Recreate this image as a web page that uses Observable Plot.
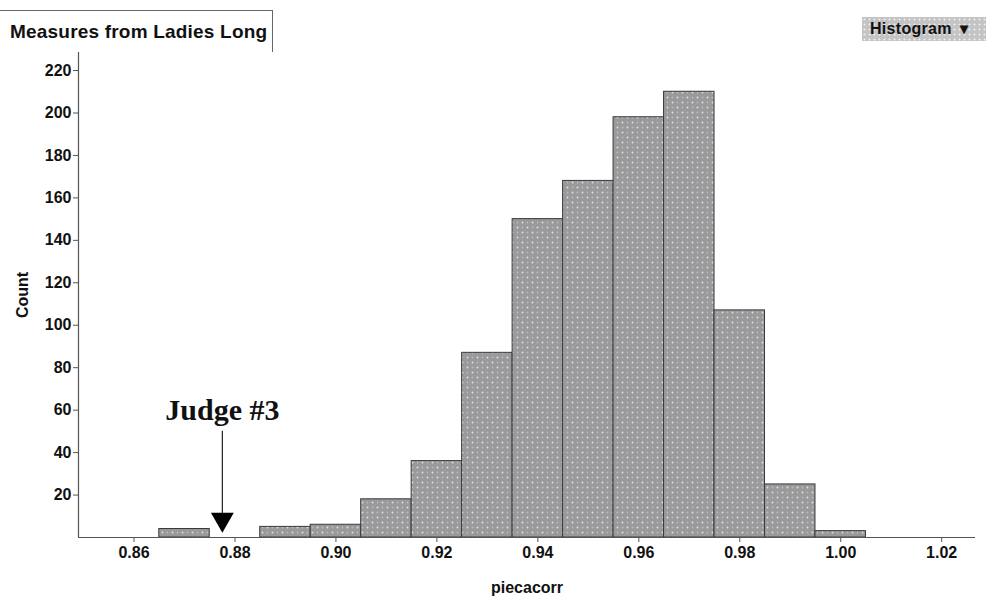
<!DOCTYPE html>
<html>
<head>
<meta charset="utf-8">
<script src="https://cdn.jsdelivr.net/npm/d3@7"></script>
<script src="https://cdn.jsdelivr.net/npm/@observablehq/plot@0.6"></script>
<style>
  html, body { margin: 0; padding: 0; background: #fff; }
  #wrap { position: relative; width: 987px; height: 599px; overflow: hidden; }
  #tab { position: absolute; left: -2px; top: 10px; width: 275px; height: 42px;
         border-top: 1px solid #666; border-right: 1px solid #666; box-sizing: border-box; }
  #tab span { position: absolute; left: 12px; top: 10px; font: bold 19px "Liberation Sans", Arial, sans-serif;
         letter-spacing: 0.2px; white-space: nowrap; color: #111; }
  #btn { position: absolute; left: 862px; top: 17px; width: 124px; height: 24px; box-sizing: border-box;
         background-color: #c4c4c4;
         background-image: radial-gradient(circle, #eee 0.8px, transparent 1.2px);
         background-size: 5px 5px; }
  #btn span { position: absolute; left: 8px; top: 2px; font: bold 16px "Liberation Sans", Arial, sans-serif;
         letter-spacing: 0.3px; word-spacing: 3px; white-space: nowrap; color: #111; }
</style>
</head>
<body>
<div id="wrap"></div>
<script>
// ---- data ----
const binStart = [0.865, 0.875, 0.885, 0.895, 0.905, 0.915, 0.925, 0.935, 0.945, 0.955, 0.965, 0.975, 0.985, 0.995];
const binEnd   = [0.875, 0.885, 0.895, 0.905, 0.915, 0.925, 0.935, 0.945, 0.955, 0.965, 0.975, 0.985, 0.995, 1.005];
const counts   = [4, 0, 5, 6, 18, 36, 87, 150, 168, 198, 210, 107, 25, 3];
const xTicks   = [0.86, 0.88, 0.90, 0.92, 0.94, 0.96, 0.98, 1.00, 1.02];
const yTicks   = [20, 40, 60, 80, 100, 120, 140, 160, 180, 200, 220];
const judgeLabel = "Judge #3";
const judgeValue = 0.8775;
const titleText = "Measures from Ladies Long";
const buttonText = "Histogram \u25BE";
const xLabel = "piecacorr";
const yLabel = "Count";

const bins = binStart.map((s, i) => ({x1: s, x2: binEnd[i], count: counts[i]})).filter(d => d.count > 0);

const font = '"Liberation Sans", Arial, sans-serif';

const chart = Plot.plot({
  width: 987,
  height: 599,
  marginLeft: 78,
  marginRight: 12,
  marginTop: 52,
  marginBottom: 62,
  style: {fontFamily: font, fontSize: "16px", color: "#111", background: "#fff"},
  x: {domain: [0.849, 1.0267]},
  y: {domain: [0, 228.5]},
  marks: [
    Plot.rectY(bins, {x1: "x1", x2: "x2", y: "count", fill: "url(#dotpat)", stroke: "#3a3a3a", strokeWidth: 1, inset: 0}),
    Plot.ruleY([0], {stroke: "#555", strokeWidth: 1.2}),
    Plot.ruleX([0.849], {stroke: "#555", strokeWidth: 1.2}),
    Plot.axisX({ticks: xTicks, tickFormat: d3.format(".2f"), tickSize: 5, tickPadding: 4, stroke: "#555",
                label: xLabel, labelAnchor: "center", labelOffset: 55, labelArrow: "none", fontWeight: "bold", fontSize: 16}),
    Plot.axisY({ticks: yTicks, tickSize: 5, tickPadding: 2, stroke: "#555",
                label: yLabel, labelAnchor: "center", labelOffset: 62, labelArrow: "none", fontWeight: "bold", fontSize: 16}),
    Plot.ruleX([judgeValue], {y1: 11, y2: 50, stroke: "#222", strokeWidth: 1.2}),
    Plot.dot([judgeValue], {x: d => d, y: 8.5, symbol: "triangle", rotate: 180, r: 8.5, fill: "#000", stroke: "none"}),
    Plot.text([judgeLabel], {x: judgeValue, y: 60, text: d => d, textAnchor: "middle", lineAnchor: "middle",
                fontFamily: '"Liberation Serif", "Times New Roman", serif', fontWeight: "bold", fontSize: 30, fill: "#111"})
  ]
});

// dotted fill pattern
const ns = "http://www.w3.org/2000/svg";
const defs = document.createElementNS(ns, "defs");
defs.innerHTML = `
  <pattern id="dotpat" patternUnits="userSpaceOnUse" width="10" height="10">
    <rect width="10" height="10" fill="#9a9a9a"/>
    <circle cx="2.5" cy="2.5" r="0.9" fill="#e4e4e4"/>
    <circle cx="7.5" cy="2.5" r="0.9" fill="#b4b4dc"/>
    <circle cx="2.5" cy="7.5" r="0.9" fill="#b4b4dc"/>
    <circle cx="7.5" cy="7.5" r="0.9" fill="#e4e4e4"/>
  </pattern>`;
chart.insertBefore(defs, chart.firstChild);

const wrap = document.getElementById("wrap");
wrap.appendChild(chart);
chart.style.position = "absolute";
chart.style.left = "0";
chart.style.top = "0";

const tab = document.createElement("div");
tab.id = "tab";
const ts = document.createElement("span");
ts.textContent = titleText;
tab.appendChild(ts);
wrap.appendChild(tab);

const btn = document.createElement("div");
btn.id = "btn";
const bs = document.createElement("span");
bs.textContent = buttonText;
btn.appendChild(bs);
wrap.appendChild(btn);
</script>
</body>
</html>
